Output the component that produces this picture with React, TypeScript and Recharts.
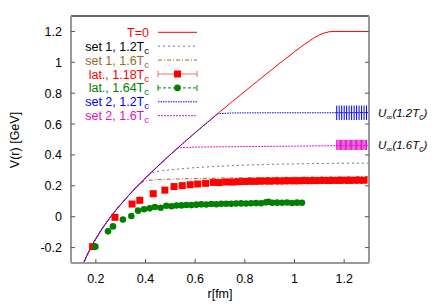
import React from 'react';
import { ComposedChart, Line, Scatter, XAxis, YAxis, ErrorBar, ReferenceLine } from 'recharts';

const xTicks = [0.2, 0.4, 0.6, 0.8, 1, 1.2];
const yTicks = [-0.2, 0, 0.2, 0.4, 0.6, 0.8, 1, 1.2];

// shared short-distance part of the potentials
const rShort = [0.15, 0.16, 0.17, 0.18, 0.19, 0.2, 0.22, 0.24, 0.26, 0.28, 0.3, 0.33, 0.36];
const vShort = [-0.303, -0.266, -0.232, -0.2, -0.17, -0.143, -0.091, -0.044, 0, 0.041, 0.079, 0.134, 0.186];

// T=0
const rT0Tail = [0.4, 0.45, 0.5, 0.55, 0.6, 0.65, 0.7, 0.75, 0.8, 0.85, 0.9, 0.95, 1.0, 1.03, 1.06, 1.08, 1.1, 1.12, 1.14, 1.16, 1.3];
const vT0Tail = [0.251, 0.328, 0.402, 0.474, 0.544, 0.612, 0.68, 0.746, 0.812, 0.877, 0.942, 1.006, 1.068, 1.105, 1.138, 1.16, 1.177, 1.19, 1.198, 1.2, 1.2];

// set 1, 1.2Tc
const rS1aTail = [0.4, 0.41, 0.43, 0.46, 0.5, 0.6, 0.7, 0.8, 0.9, 1.0, 1.1, 1.2, 1.3];
const vS1aTail = [0.251, 0.266, 0.285, 0.296, 0.304, 0.318, 0.327, 0.334, 0.339, 0.342, 0.345, 0.346, 0.347];

// set 1, 1.6Tc
const rS1bTail = [0.375, 0.39, 0.41, 0.45, 0.5, 0.6, 0.7, 0.8, 0.9, 1.0, 1.1, 1.2, 1.3];
const vS1bTail = [0.211, 0.226, 0.235, 0.24, 0.243, 0.247, 0.25, 0.252, 0.254, 0.256, 0.257, 0.258, 0.259];

// set 2, 1.2Tc
const rS2aTail = [0.4, 0.45, 0.5, 0.55, 0.6, 0.65, 0.69, 0.75, 0.9, 1.1, 1.3];
const vS2aTail = [0.251, 0.328, 0.402, 0.474, 0.544, 0.612, 0.667, 0.672, 0.673, 0.673, 0.674];

// set 2, 1.6Tc
const rS2bTail = [0.4, 0.45, 0.5, 0.53, 0.6, 0.8, 1.0, 1.3];
const vS2bTail = [0.251, 0.328, 0.402, 0.446, 0.451, 0.454, 0.457, 0.462];

// lattice 1.18Tc
const rLat118 = [0.187, 0.277, 0.346, 0.377, 0.431, 0.478, 0.515, 0.548, 0.58, 0.61, 0.642, 0.673, 0.697, 0.724, 0.75, 0.774, 0.8, 0.82, 0.84, 0.86, 0.88, 0.9, 0.92, 0.94, 0.96, 0.98, 1.0, 1.02, 1.04, 1.06, 1.08, 1.1, 1.12, 1.14, 1.16, 1.18, 1.2, 1.22, 1.24, 1.26, 1.28];
const vLat118 = [-0.194, -0.004, 0.082, 0.106, 0.149, 0.172, 0.195, 0.201, 0.207, 0.212, 0.216, 0.222, 0.221, 0.225, 0.224, 0.227, 0.228, 0.229, 0.229, 0.23, 0.231, 0.23, 0.232, 0.231, 0.232, 0.233, 0.232, 0.233, 0.234, 0.233, 0.234, 0.234, 0.235, 0.234, 0.235, 0.235, 0.236, 0.235, 0.236, 0.236, 0.236];

// lattice 1.64Tc
const rLat164 = [0.198, 0.249, 0.269, 0.309, 0.343, 0.37, 0.394, 0.417, 0.438, 0.461, 0.484, 0.505, 0.525, 0.545, 0.565, 0.585, 0.605, 0.625, 0.645, 0.665, 0.685, 0.705, 0.725, 0.745, 0.765, 0.785, 0.805, 0.825, 0.845, 0.865, 0.885, 0.895, 0.91, 0.93, 0.95, 0.97, 0.99, 1.01, 1.03];
const vLat164 = [-0.194, -0.095, -0.063, -0.019, 0.004, 0.039, 0.048, 0.054, 0.063, 0.058, 0.071, 0.068, 0.072, 0.073, 0.076, 0.075, 0.078, 0.08, 0.079, 0.082, 0.081, 0.083, 0.084, 0.083, 0.085, 0.086, 0.085, 0.087, 0.088, 0.087, 0.093, 0.097, 0.09, 0.091, 0.09, 0.092, 0.089, 0.091, 0.09];

// U_inf bands
const rBand12 = [1.17, 1.18, 1.19, 1.2, 1.21, 1.22, 1.23, 1.24, 1.25, 1.26, 1.27, 1.28, 1.29];
const uInf12 = 0.673;
const uErr12 = 0.047;
const rBand16 = [1.17, 1.175, 1.18, 1.185, 1.19, 1.195, 1.2, 1.205, 1.21, 1.215, 1.22, 1.225, 1.23, 1.235, 1.24, 1.245, 1.25, 1.255, 1.26, 1.265, 1.27, 1.275, 1.28, 1.285, 1.29];
const uInf16 = 0.465;
const uErr16 = 0.033;

const pts = (rs: number[], vs: number[]) => rs.map((r, i) => ({ r, v: vs[i] }));
const dT0 = pts([...rShort, ...rT0Tail], [...vShort, ...vT0Tail]);
const dS1a = pts([...rShort, ...rS1aTail], [...vShort, ...vS1aTail]);
const dS1b = pts([...rShort, ...rS1bTail], [...vShort, ...vS1bTail]);
const dS2a = pts([...rShort, ...rS2aTail], [...vShort, ...vS2aTail]);
const dS2b = pts([...rShort, ...rS2bTail], [...vShort, ...vS2bTail]);
const dLat118 = pts(rLat118, vLat118);
const dLat164 = pts(rLat164, vLat164);
const dBand12 = rBand12.map((r) => ({ r, v: uInf12, err: uErr12 }));
const dBand16 = rBand16.map((r) => ({ r, v: uInf16, err: uErr16 }));

const FONT = '"Liberation Sans", Arial, Helvetica, sans-serif';
const RED = '#ff0000';
const GRAY = '#777777';
const BROWN = '#9a6a2c';
const GREEN = '#008000';
const BLUE = '#0000ff';
const MAGENTA = '#e010c8';
const AXIS = '#999999';

const Square = (p: any) => <rect x={p.cx - 3.5} y={p.cy - 3.5} width={7} height={7} fill={RED} />;
const Dot = (p: any) => <circle cx={p.cx} cy={p.cy} r={3.3} fill={GREEN} />;
const Nothing = () => <g />;

const legendRows = [
  { main: 'T=0', sub: '', color: RED, y: 32.3 },
  { main: 'set 1, 1.2T', sub: 'c', color: '#000000', y: 46.2 },
  { main: 'set 1, 1.6T', sub: 'c', color: BROWN, y: 60.1 },
  { main: 'lat., 1.18T', sub: 'c', color: RED, y: 74 },
  { main: 'lat., 1.64T', sub: 'c', color: GREEN, y: 87.9 },
  { main: 'set 2, 1.2T', sub: 'c', color: BLUE, y: 101.8 },
  { main: 'set 2, 1.6T', sub: 'c', color: MAGENTA, y: 115.7 },
];

const Overlay = () => {
  const x1 = 158;
  const x2 = 197;
  const xm = 177.5;
  const ys = legendRows.map((r) => r.y);
  return (
    <svg width={436} height={305} style={{ position: 'absolute', left: 0, top: 0, pointerEvents: 'none' }}>
      <g fontFamily={FONT} fontSize={12.5}>
        {legendRows.map((row, i) => (
          <text key={i} x={149} y={row.y + 4.5} textAnchor="end" fill={row.color}>
            {row.main}
            {row.sub ? (
              <tspan fontSize={9.5} dy={3}>
                {row.sub}
              </tspan>
            ) : null}
          </text>
        ))}
      </g>
      <line x1={x1} x2={x2} y1={ys[0]} y2={ys[0]} stroke={RED} strokeWidth={1} />
      <line x1={x1} x2={x2} y1={ys[1]} y2={ys[1]} stroke={GRAY} strokeWidth={1} strokeDasharray="2 3" />
      <line x1={x1} x2={x2} y1={ys[2]} y2={ys[2]} stroke={BROWN} strokeWidth={1} strokeDasharray="4 2 1 2" />
      <line x1={x1} x2={x2} y1={ys[3]} y2={ys[3]} stroke="#f07070" strokeWidth={1} />
      <line x1={x1} x2={x1} y1={ys[3] - 3} y2={ys[3] + 3} stroke="#f07070" strokeWidth={1} />
      <line x1={x2} x2={x2} y1={ys[3] - 3} y2={ys[3] + 3} stroke="#f07070" strokeWidth={1} />
      <rect x={xm - 3.5} y={ys[3] - 3.5} width={7} height={7} fill={RED} />
      <line x1={x1} x2={x2} y1={ys[4]} y2={ys[4]} stroke={GREEN} strokeWidth={1} strokeDasharray="3 2" />
      <line x1={x1} x2={x1} y1={ys[4] - 3} y2={ys[4] + 3} stroke={GREEN} strokeWidth={1} />
      <line x1={x2} x2={x2} y1={ys[4] - 3} y2={ys[4] + 3} stroke={GREEN} strokeWidth={1} />
      <circle cx={xm} cy={ys[4]} r={3.3} fill={GREEN} />
      <line x1={x1} x2={x2} y1={ys[5]} y2={ys[5]} stroke={BLUE} strokeWidth={1} strokeDasharray="1.5 1" />
      <line x1={x1} x2={x2} y1={ys[6]} y2={ys[6]} stroke={MAGENTA} strokeWidth={1} strokeDasharray="2 1" />

      <g fontFamily={FONT} fontSize={11.5} fontStyle="italic" fill="#000">
        <text x={378} y={117}>
          U<tspan fontSize={8.5} dy={2.5}>∞</tspan>
          <tspan dy={-2.5}>(1.2T</tspan>
          <tspan fontSize={8.5} dy={2.5}>c</tspan>
          <tspan dy={-2.5}>)</tspan>
        </text>
        <text x={378} y={149}>
          U<tspan fontSize={8.5} dy={2.5}>∞</tspan>
          <tspan dy={-2.5}>(1.6T</tspan>
          <tspan fontSize={8.5} dy={2.5}>c</tspan>
          <tspan dy={-2.5}>)</tspan>
        </text>
      </g>

      <g fontFamily={FONT} fontSize={12.5} fill="#000">
        <text x={220} y={298} textAnchor="middle">r[fm]</text>
        <text x={19} y={140} textAnchor="middle" transform="rotate(-90, 19, 140)">V(r) [GeV]</text>
      </g>
    </svg>
  );
};

export default function App() {
  return (
    <div style={{ position: 'absolute', left: 0, top: 0, width: 436, height: 305, background: '#fff' }}>
      <ComposedChart width={436} height={305} margin={{ top: 16, right: 57, bottom: 12, left: 0 }}>
        <XAxis
          type="number"
          dataKey="r"
          domain={[0.1, 1.3]}
          ticks={xTicks}
          allowDataOverflow
          height={30}
          tickSize={-4}
          tickMargin={15}
          stroke={AXIS}
          axisLine={{ stroke: AXIS, strokeWidth: 2 }}
          tickLine={{ stroke: '#555' }}
          tick={{ fill: '#000', fontSize: 12.5, fontFamily: FONT }}
        />
        <YAxis
          type="number"
          dataKey="v"
          domain={[-0.3, 1.3]}
          ticks={yTicks}
          allowDataOverflow
          width={71}
          tickSize={-4}
          tickMargin={13}
          axisLine={{ stroke: AXIS, strokeWidth: 2 }}
          tickLine={{ stroke: '#555' }}
          tick={{ fill: '#000', fontSize: 12.5, fontFamily: FONT }}
        />
        <YAxis
          yAxisId="right"
          orientation="right"
          type="number"
          domain={[-0.3, 1.3]}
          ticks={yTicks}
          allowDataOverflow
          width={10}
          tickSize={-4}
          tickFormatter={() => ''}
          axisLine={{ stroke: AXIS, strokeWidth: 2 }}
          tickLine={{ stroke: '#555' }}
        />
        <ReferenceLine y={1.3} stroke="#333" strokeWidth={1.5} ifOverflow="extendDomain" />

        <Line data={dS1a} dataKey="v" type="linear" dot={false} stroke={GRAY} strokeWidth={1} strokeDasharray="2 3" isAnimationActive={false} />
        <Line data={dS1b} dataKey="v" type="linear" dot={false} stroke={BROWN} strokeWidth={1} strokeDasharray="4 2 1 2" isAnimationActive={false} />
        <Line data={dT0} dataKey="v" type="linear" dot={false} stroke={RED} strokeWidth={1} isAnimationActive={false} />
        <Line data={dS2b} dataKey="v" type="linear" dot={false} stroke={MAGENTA} strokeWidth={1} strokeDasharray="2 1" isAnimationActive={false} />
        <Line data={dS2a} dataKey="v" type="linear" dot={false} stroke={BLUE} strokeWidth={1} strokeDasharray="1.5 1" isAnimationActive={false} />

        <Scatter data={dLat118} dataKey="v" shape={Square} isAnimationActive={false} />
        <Scatter data={dLat164} dataKey="v" shape={Dot} isAnimationActive={false} />

        <Scatter data={dBand12} dataKey="v" shape={Nothing} isAnimationActive={false}>
          <ErrorBar dataKey="err" direction="y" width={0} stroke={BLUE} strokeWidth={1} isAnimationActive={false} />
        </Scatter>
        <Scatter data={dBand16} dataKey="v" shape={Nothing} isAnimationActive={false}>
          <ErrorBar dataKey="err" direction="y" width={0} stroke={MAGENTA} strokeWidth={1} isAnimationActive={false} />
        </Scatter>
      </ComposedChart>
      <Overlay />
    </div>
  );
}
